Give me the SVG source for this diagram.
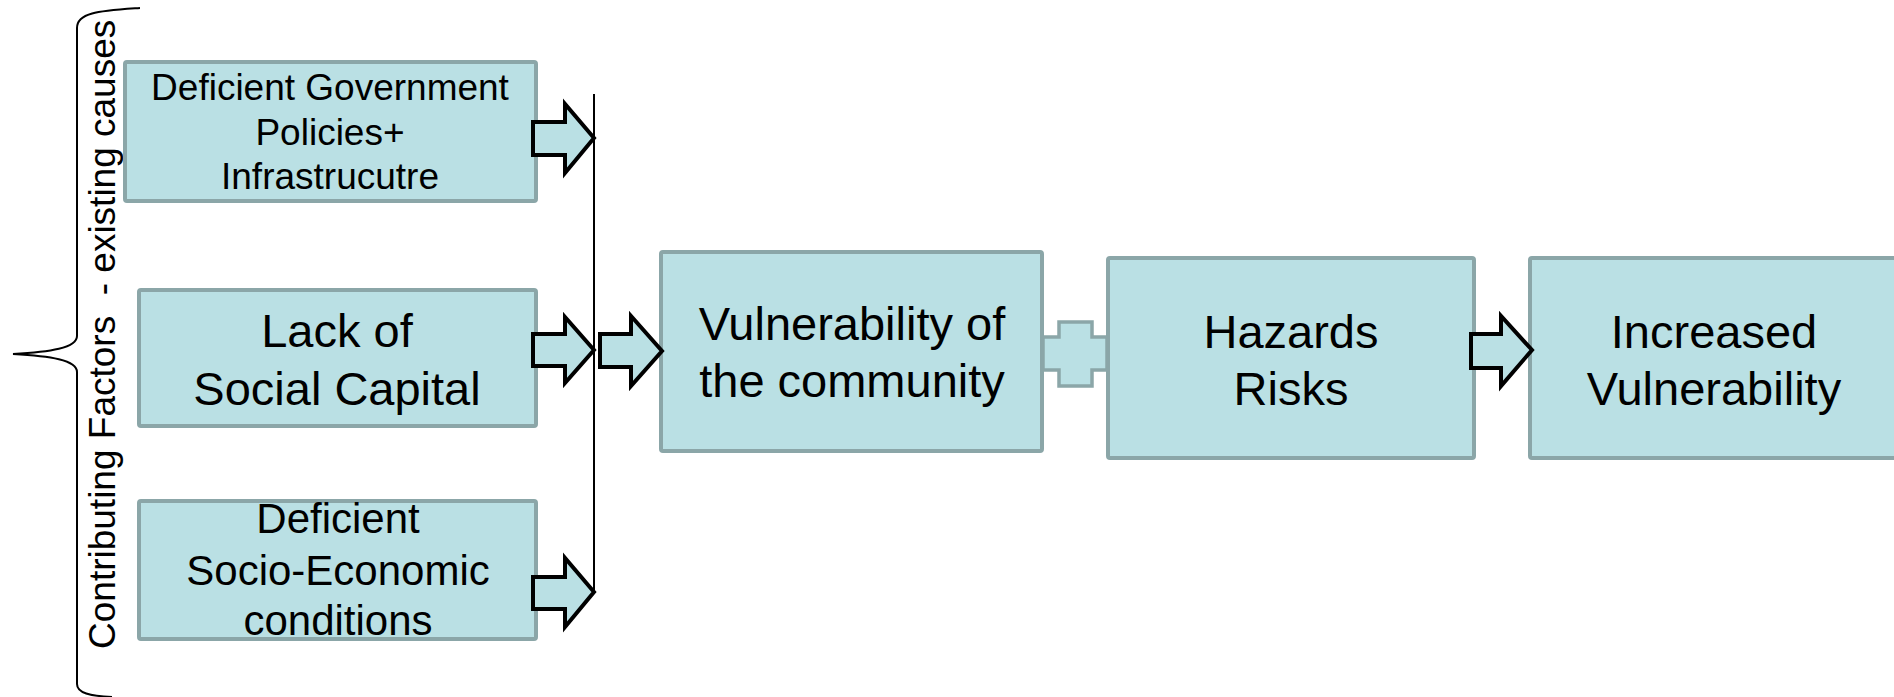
<svg xmlns="http://www.w3.org/2000/svg" width="1894" height="697" viewBox="0 0 1894 697">
  <style>
    .box { fill: #bae0e4; stroke: #8ba6a8; stroke-width: 4; }
    .arrow { fill: #bae0e4; stroke: #000000; stroke-width: 4; stroke-linejoin: miter; }
    .plus { fill: #bae0e4; stroke: #8ba6a8; stroke-width: 3.5; }
    .line { fill: none; stroke: #000000; stroke-width: 2; }
    text { font-family: "Liberation Sans", Arial, sans-serif; fill: #000000; text-anchor: middle; }
    .t37 { font-size: 37px; }
    .t42 { font-size: 42px; }
    .t47 { font-size: 47px; }
    .caption { font-size: 37px; text-anchor: start; white-space: pre; }
  </style>

  <!-- bracket and side caption -->
  <g id="bracket">
    <path class="line" d="M 140 8 C 100 11 77 12 77 28 L 77 336 C 77 348 50 352 13 354 C 50 356 77 360 77 372 L 77 684 C 77 693 90 696 112 697"/>
    <text class="caption" xml:space="preserve" transform="translate(115,649) rotate(-90)">Contributing Factors  - existing causes</text>
  </g>

  <g id="node-government">
    <rect class="box" x="125" y="62" width="411" height="139" rx="2"/>
    <text class="t37" x="330" y="100">Deficient Government</text>
    <text class="t37" x="330" y="145">Policies+</text>
    <text class="t37" x="330" y="189">Infrastrucutre</text>
  </g>

  <g id="node-social">
    <rect class="box" x="139" y="290" width="397" height="136" rx="2"/>
    <text class="t47" x="337" y="347">Lack of</text>
    <text class="t47" x="337" y="405">Social Capital</text>
  </g>

  <g id="node-socioeconomic">
    <rect class="box" x="139" y="501" width="397" height="138" rx="2"/>
    <text class="t42" x="338" y="533">Deficient</text>
    <text class="t42" x="338" y="585">Socio-Economic</text>
    <text class="t42" x="338" y="635">conditions</text>
  </g>

  <g id="node-vulnerability">
    <rect class="box" x="661" y="252" width="381" height="199" rx="2"/>
    <text class="t47" x="852" y="340">Vulnerability of</text>
    <text class="t47" x="852" y="397">the community</text>
  </g>

  <g id="node-hazards">
    <rect class="box" x="1108" y="258" width="366" height="200" rx="2"/>
    <text class="t47" x="1291" y="348">Hazards</text>
    <text class="t47" x="1291" y="405">Risks</text>
  </g>

  <g id="node-increased">
    <rect class="box" x="1530" y="258" width="368" height="200" rx="2"/>
    <text class="t47" x="1714" y="348">Increased</text>
    <text class="t47" x="1714" y="405">Vulnerability</text>
  </g>

  <g id="connectors">
    <!-- collector line -->
    <line class="line" x1="594" y1="94" x2="594" y2="590"/>
    <!-- block arrows into the collector -->
    <path class="arrow" d="M 533 122 L 565 122 L 565 104 L 594 138 L 565 173 L 565 155 L 533 155 Z"/>
    <path class="arrow" d="M 533 334 L 565 334 L 565 317 L 594 350 L 565 383 L 565 366 L 533 366 Z"/>
    <path class="arrow" d="M 533 577 L 565 577 L 565 558 L 594 592 L 565 627 L 565 609 L 533 609 Z"/>
    <!-- collector to vulnerability -->
    <path class="arrow" d="M 600 334 L 631 334 L 631 316 L 662 351 L 631 386 L 631 367 L 600 367 Z"/>
    <!-- plus between vulnerability and hazards -->
    <path class="plus" d="M 1043 337 L 1059 337 L 1059 322 L 1092 322 L 1092 337 L 1107 337 L 1107 370 L 1092 370 L 1092 386 L 1059 386 L 1059 370 L 1043 370 Z"/>
    <!-- hazards to increased vulnerability -->
    <path class="arrow" d="M 1471 334 L 1501 334 L 1501 316 L 1532 350 L 1501 386 L 1501 368 L 1471 368 Z"/>
  </g>
</svg>
